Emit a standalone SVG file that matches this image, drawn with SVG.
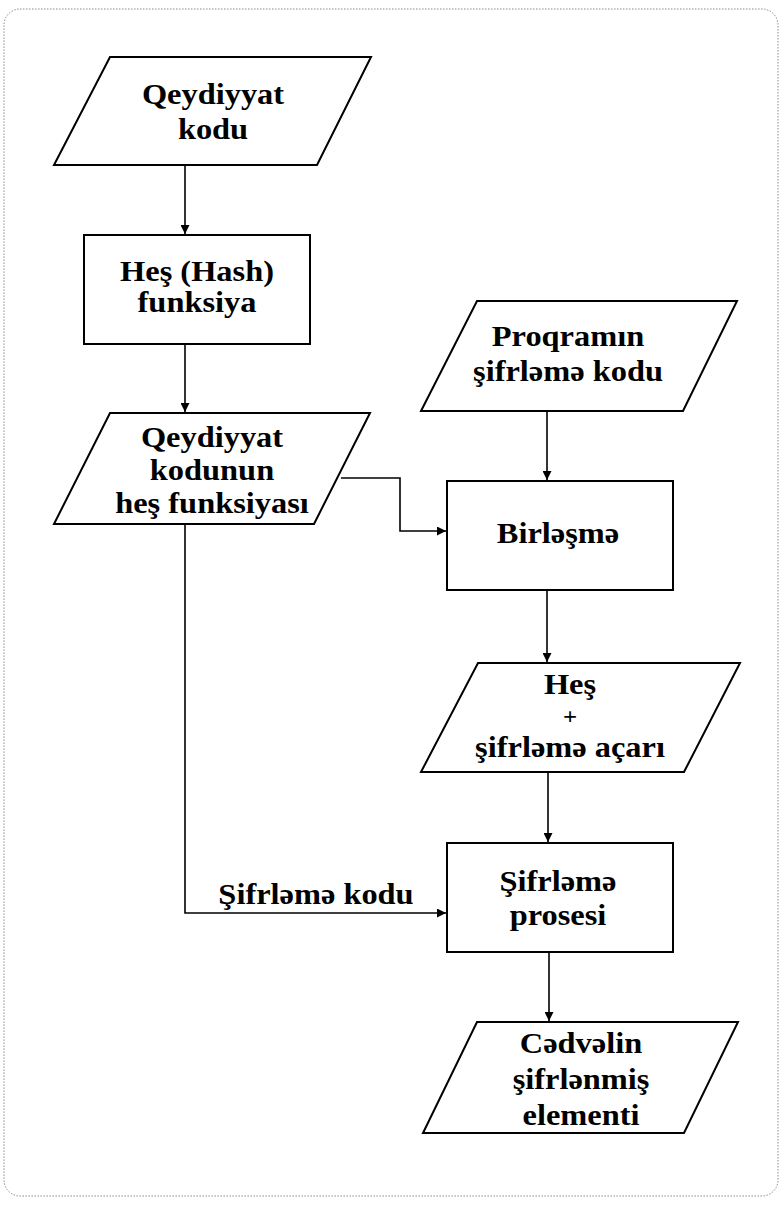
<svg xmlns="http://www.w3.org/2000/svg" width="780" height="1206" viewBox="0 0 780 1206">
<style>
.frame{fill:none;stroke:#8a8a8a;stroke-width:1;stroke-dasharray:1.5 1.5}
.shape{fill:#fff;stroke:#000;stroke-width:2}
.conn{fill:none;stroke:#000;stroke-width:1.6}
.t{font-family:"Liberation Serif","Times New Roman",serif;font-weight:bold;font-size:30px;fill:#000;text-anchor:middle}
.p{font-size:23px}
</style>
<defs>
<marker id="arr" viewBox="0 0 10 10" refX="10" refY="5" markerWidth="9" markerHeight="9" markerUnits="userSpaceOnUse" orient="auto">
<path d="M0,0 L10,5 L0,10 Z" fill="#000"/>
</marker>
</defs>
<rect width="780" height="1206" fill="#fff"/>
<rect class="frame" x="4" y="9" width="774" height="1187" rx="16"/>

<g id="connectors">
<line class="conn" x1="185" y1="165" x2="185" y2="234" marker-end="url(#arr)"/>
<line class="conn" x1="185" y1="344" x2="185" y2="412" marker-end="url(#arr)"/>
<line class="conn" x1="547" y1="411" x2="547" y2="480" marker-end="url(#arr)"/>
<polyline class="conn" points="341,478 400,478 400,531 446,531" marker-end="url(#arr)"/>
<line class="conn" x1="547" y1="590" x2="547" y2="662" marker-end="url(#arr)"/>
<line class="conn" x1="548" y1="772" x2="548" y2="842" marker-end="url(#arr)"/>
<polyline class="conn" points="185,524 185,913 446,913" marker-end="url(#arr)"/>
<line class="conn" x1="549" y1="952" x2="549" y2="1021" marker-end="url(#arr)"/>
<text class="t" transform="translate(316,904) scale(1.08,1)">Şifrləmə kodu</text>
</g>

<g id="n1">
<polygon class="shape" points="110,57 371,57 317,165 54,165"/>
<text class="t" transform="translate(213,104) scale(1.08,1)">Qeydiyyat</text>
<text class="t" transform="translate(213,139) scale(1.08,1)">kodu</text>
</g>

<g id="n2">
<rect class="shape" x="84" y="235" width="226" height="109"/>
<text class="t" transform="translate(197,281) scale(1.08,1)">Heş (Hash)</text>
<text class="t" transform="translate(197,312) scale(1.08,1)">funksiya</text>
</g>

<g id="n3">
<polygon class="shape" points="110,413 370,413 314,524 54,524"/>
<text class="t" transform="translate(212,447) scale(1.08,1)">Qeydiyyat</text>
<text class="t" transform="translate(212,480) scale(1.08,1)">kodunun</text>
<text class="t" transform="translate(212,513) scale(1.08,1)">heş funksiyası</text>
</g>

<g id="n4">
<polygon class="shape" points="477,301 737,301 683,411 421,411"/>
<text class="t" transform="translate(568,346) scale(1.08,1)">Proqramın</text>
<text class="t" transform="translate(568,381) scale(1.08,1)">şifrləmə kodu</text>
</g>

<g id="n5">
<rect class="shape" x="447" y="481" width="226" height="109"/>
<text class="t" transform="translate(558,543) scale(1.08,1)">Birləşmə</text>
</g>

<g id="n6">
<polygon class="shape" points="478,663 740,663 684,772 421,772"/>
<text class="t" transform="translate(570,694) scale(1.08,1)">Heş</text>
<text class="t p" transform="translate(570,724) scale(1.08,1)">+</text>
<text class="t" transform="translate(570,757) scale(1.08,1)">şifrləmə açarı</text>
</g>

<g id="n7">
<rect class="shape" x="447" y="843" width="226" height="109"/>
<text class="t" transform="translate(558,891) scale(1.08,1)">Şifrləmə</text>
<text class="t" transform="translate(558,925) scale(1.08,1)">prosesi</text>
</g>

<g id="n8">
<polygon class="shape" points="477,1022 738,1022 684,1133 423,1133"/>
<text class="t" transform="translate(581,1053) scale(1.08,1)">Cədvəlin</text>
<text class="t" transform="translate(581,1089) scale(1.08,1)">şifrlənmiş</text>
<text class="t" transform="translate(581,1125) scale(1.08,1)">elementi</text>
</g>
</svg>
